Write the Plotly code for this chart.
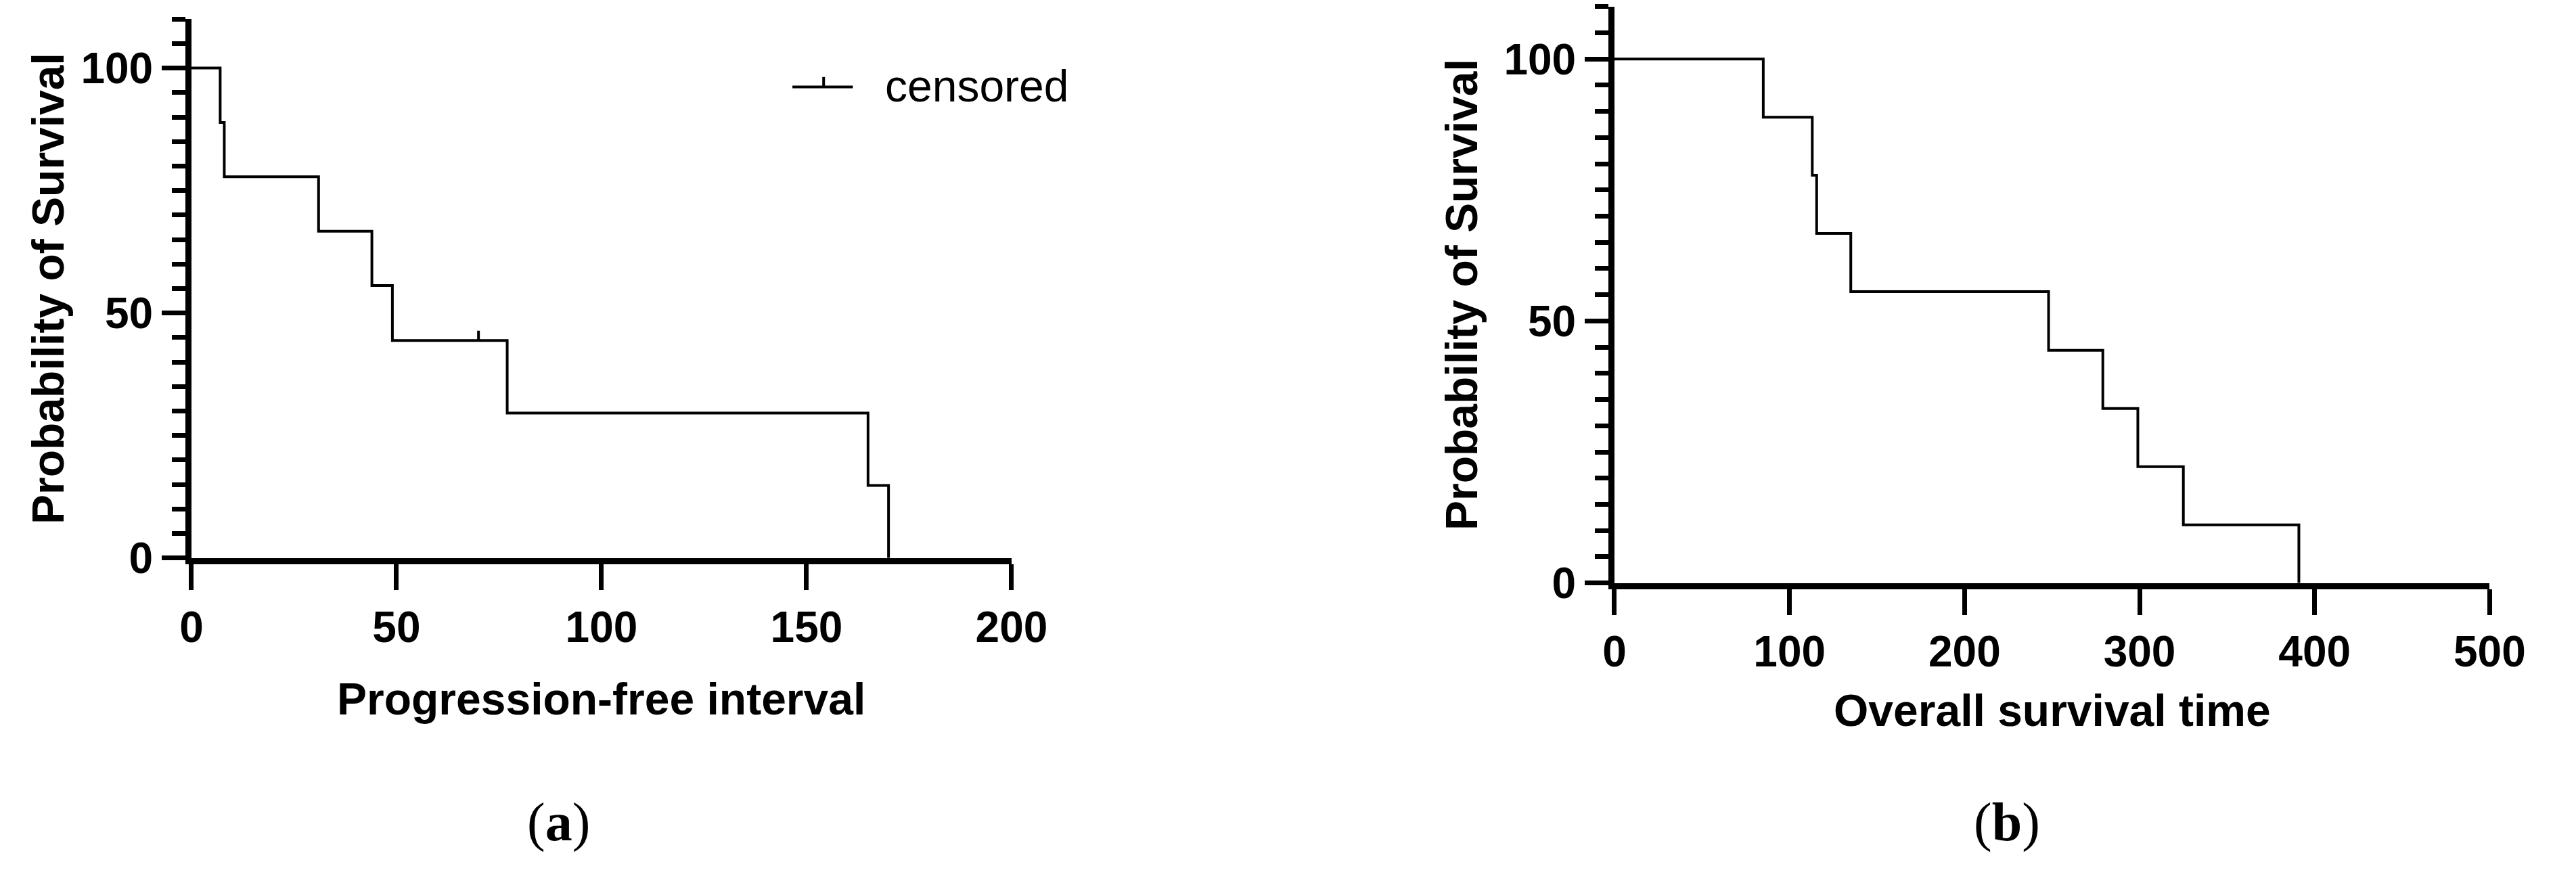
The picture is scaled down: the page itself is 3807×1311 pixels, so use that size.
import plotly.graph_objects as go

W, H = 3807, 1311

# ---- Data ----
pfi_times = [0, 7, 8, 31, 44, 49, 77, 165, 170]
pfi_surv = [100, 88.9, 77.8, 66.7, 55.6, 44.4, 29.6, 14.8, 0]
pfi_censor_times = [70]
pfi_censor_surv = [44.4]

os_times = [0, 85, 113, 115.5, 135, 248, 279, 299, 325, 391]
os_surv = [100, 88.9, 77.8, 66.7, 55.6, 44.4, 33.3, 22.2, 11.1, 0]

x_title_a = "Progression-free interval"
x_title_b = "Overall survival time"
y_title = "Probability of Survival"
legend_label = "censored"
panel_labels = ["(<b>a</b>)", "(<b>b</b>)"]

# ---- Styling helpers ----
def px_x(p):
    return p / W

def px_y(p):
    return 1 - p / H

LINE_W = 4
CENSOR_H = 2.0  # tick height in data units

fig = go.Figure()

fig.add_trace(go.Scatter(x=pfi_times, y=pfi_surv, mode="lines", line_shape="hv",
                         line=dict(color="black", width=LINE_W), xaxis="x", yaxis="y",
                         showlegend=False, cliponaxis=False))
for t, s in zip(pfi_censor_times, pfi_censor_surv):
    fig.add_trace(go.Scatter(x=[t, t], y=[s, s + CENSOR_H], mode="lines",
                             line=dict(color="black", width=LINE_W), xaxis="x", yaxis="y",
                             showlegend=False))

fig.add_trace(go.Scatter(x=os_times, y=os_surv, mode="lines", line_shape="hv",
                         line=dict(color="black", width=LINE_W), xaxis="x2", yaxis="y2",
                         showlegend=False, cliponaxis=False))

tickfont = dict(family="Liberation Sans, Arial, sans-serif", size=64, color="black", weight="bold")

common_x = dict(showline=True, linewidth=9, linecolor="black", ticks="outside", ticklen=38,
                tickwidth=7, tickcolor="black", showgrid=False, zeroline=False,
                tickfont=tickfont, tick0=0, fixedrange=True)
common_y = dict(showline=True, linewidth=9, linecolor="black", ticks="outside", ticklen=35,
                tickwidth=7, tickcolor="black", showgrid=False, zeroline=False,
                tickfont=tickfont, tick0=0, dtick=50, range=[0, 110], fixedrange=True,
                minor=dict(dtick=5, tick0=0, ticks="outside", ticklen=20, tickwidth=7,
                           tickcolor="black", showgrid=False))

fig.update_layout(
    width=W, height=H,
    margin=dict(l=0, r=0, t=0, b=0),
    paper_bgcolor="white", plot_bgcolor="white",
    xaxis=dict(domain=[px_x(270), px_x(1505)], range=[0, 200], dtick=50, anchor="y", **common_x),
    yaxis=dict(domain=[px_y(848), px_y(29)], anchor="x", **common_y),
    xaxis2=dict(domain=[px_x(2413), px_x(3731)], range=[0, 500], dtick=100, anchor="y2", **common_x),
    yaxis2=dict(domain=[px_y(886), px_y(10)], anchor="x2", **common_y),
)

title_font = dict(family="Liberation Sans, Arial, sans-serif", size=66, color="black", weight="bold")

annotations = [
    dict(text=x_title_a, x=px_x(887), y=px_y(1062), xref="paper", yref="paper",
         xanchor="center", yanchor="middle", showarrow=False, font=title_font),
    dict(text=x_title_b, x=px_x(3072), y=px_y(1080), xref="paper", yref="paper",
         xanchor="center", yanchor="middle", showarrow=False, font=title_font),
    dict(text=y_title, x=px_x(54), y=px_y(438), xref="paper", yref="paper", textangle=-90,
         xanchor="center", yanchor="middle", showarrow=False, font=title_font),
    dict(text=y_title, x=px_x(2182), y=px_y(448), xref="paper", yref="paper", textangle=-90,
         xanchor="center", yanchor="middle", showarrow=False, font=title_font),
    dict(text=legend_label, x=px_x(1312), y=px_y(131), xref="paper", yref="paper",
         xanchor="left", yanchor="middle", showarrow=False,
         font=dict(family="Liberation Sans, Arial, sans-serif", size=66, color="black")),
    dict(text=panel_labels[0], x=px_x(823), y=px_y(1250), xref="paper", yref="paper",
         xanchor="center", yanchor="middle", showarrow=False,
         font=dict(family="Liberation Serif, Times New Roman, serif", size=80, color="black")),
    dict(text=panel_labels[1], x=px_x(3004), y=px_y(1250), xref="paper", yref="paper",
         xanchor="center", yanchor="middle", showarrow=False,
         font=dict(family="Liberation Serif, Times New Roman, serif", size=80, color="black")),
]
fig.update_layout(annotations=annotations)

# legend symbol: line with a small censor tick
shapes = [
    dict(type="line", xref="paper", yref="paper", x0=px_x(1175), x1=px_x(1266),
         y0=px_y(132), y1=px_y(132), line=dict(color="black", width=LINE_W)),
    dict(type="line", xref="paper", yref="paper", x0=px_x(1222), x1=px_x(1222),
         y0=px_y(132), y1=px_y(117), line=dict(color="black", width=LINE_W)),
]
fig.update_layout(shapes=shapes)

fig.write_html("out.html", config={"displayModeBar": False},
               post_script="document.body.style.margin='0px';")
